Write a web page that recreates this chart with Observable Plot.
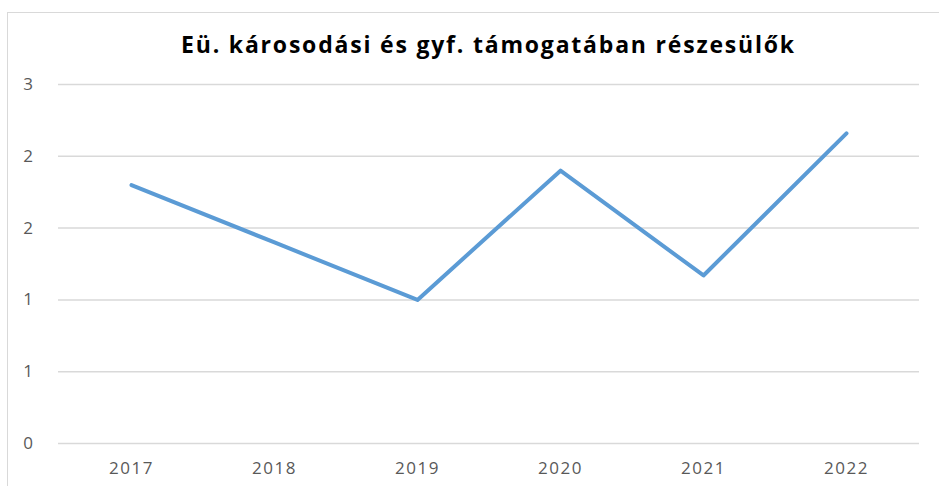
<!DOCTYPE html>
<html>
<head>
<meta charset="utf-8">
<script src="https://cdn.jsdelivr.net/npm/d3@7"></script>
<script src="https://cdn.jsdelivr.net/npm/@observablehq/plot@0.6"></script>
<style>
  html, body { margin: 0; padding: 0; background: #fff; }
  #frame { position: absolute; left: 7px; top: 12px; width: 960px; height: 500px; border: 1px solid #d9d9d9; box-sizing: border-box; }
  #wrap { position: absolute; left: 0; top: 0; width: 939px; height: 486px; overflow: hidden; }
  #title { position: absolute; left: 58px; width: 861px; top: 30px; text-align: center; font-family: "Open Sans", sans-serif; font-weight: bold; font-size: 23px; letter-spacing: 1.8px; line-height: 28px; color: #000; }
  #chart { position: absolute; left: 0; top: 60px; }
  #chart svg text { letter-spacing: 1.5px; }
</style>
</head>
<body>
<div id="wrap">
  <div id="frame"></div>
  <div id="title">Eü. károsodási és gyf. támogatában részesülők</div>
  <div id="chart"></div>
</div>
<script>
const years = ["2017", "2018", "2019", "2020", "2021", "2022"];
const values = [1.8, 1.4, 1.0, 1.9, 1.17, 2.16];
const yTicks = [0, 0.5, 1, 1.5, 2, 2.5];

const data = years.map((y, i) => ({year: y, value: values[i]}));

const chart = Plot.plot({
  width: 939,
  height: 426,
  marginLeft: 58,
  marginRight: 20,
  marginTop: 24,
  marginBottom: 43,
  style: {fontFamily: "'Open Sans', sans-serif", fontSize: "17px", color: "#595959", background: "transparent"},
  x: {type: "point", domain: years, padding: 0.5, label: null, tickSize: 0, tickPadding: 18},
  y: {domain: [0, 2.5], ticks: yTicks, tickFormat: d => String(Math.round(d)), label: null, tickSize: 0, tickPadding: 24},
  marks: [
    Plot.gridY(yTicks, {stroke: "#d9d9d9", strokeOpacity: 1, strokeWidth: 1.5}),
    Plot.line(data, {x: "year", y: "value", stroke: "#5b9bd5", strokeWidth: 4, strokeLinecap: "round", strokeLinejoin: "round"})
  ]
});
document.getElementById("chart").appendChild(chart);
</script>
</body>
</html>
